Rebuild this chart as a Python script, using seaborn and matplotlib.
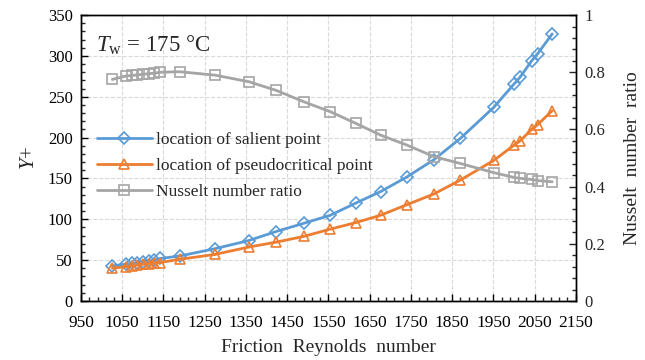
import numpy as np
import pandas as pd
import matplotlib
matplotlib.use("Agg")
import matplotlib.pyplot as plt
import seaborn as sns
from matplotlib.ticker import MultipleLocator, FixedLocator
from matplotlib.lines import Line2D

sns.set_theme(style="white")
plt.rcParams['font.family'] = ['Liberation Serif', 'DejaVu Serif']
plt.rcParams['mathtext.fontset'] = 'custom'
plt.rcParams['mathtext.rm'] = 'Liberation Serif'
plt.rcParams['mathtext.it'] = 'Liberation Serif:italic'

re_tau = [1026, 1059, 1073, 1087, 1100, 1114, 1128, 1142, 1189, 1275, 1357, 1423,
          1490, 1555, 1617, 1677, 1741, 1806, 1870, 1951, 2001, 2015, 2043, 2058, 2093]
salient = [43, 45, 46, 47, 48, 49, 50, 52, 55, 64, 74, 85,
           95, 105, 120, 134, 152, 173, 199, 237, 266, 274, 294, 303, 327]
pseudo = [40, 42, 43, 44, 45, 45.5, 46, 47, 51, 57, 66, 72,
          79, 88, 96, 105, 118, 131, 148, 172, 191, 196, 210, 216, 233]
nu_ratio = [0.775, 0.787, 0.789, 0.791, 0.793, 0.795, 0.797, 0.800, 0.802, 0.790, 0.767, 0.737,
            0.697, 0.662, 0.621, 0.580, 0.545, 0.505, 0.481, 0.449, 0.432, 0.429, 0.425, 0.421, 0.417]
x_ticks = list(range(950, 2151, 100))

df = pd.DataFrame({"re": re_tau, "salient": salient, "pseudo": pseudo, "nu": nu_ratio})

blue = "#5B9BD5"
orange = "#ED7D31"
gray = "#A5A5A5"

fig = plt.figure(figsize=(6.45, 3.6), dpi=100)
ax = fig.add_axes([0.1256, 0.164, 0.767, 0.794])
ax2 = ax.twinx()

common = dict(linewidth=2.0, markersize=7, markerfacecolor='none', markeredgewidth=1.2)
sns.lineplot(data=df, x="re", y="salient", ax=ax, color=blue, marker="D",
             markeredgecolor=blue, label="location of salient point",
             **{**common, 'markersize': 6})
sns.lineplot(data=df, x="re", y="pseudo", ax=ax, color=orange, marker="^",
             markeredgecolor=orange, label="location of pseudocritical point", **common)
sns.lineplot(data=df, x="re", y="nu", ax=ax2, color=gray, marker="s",
             markeredgecolor=gray, legend=False, **common)

ax.set_xlim(950, 2150)
ax.set_ylim(0, 350)
ax2.set_ylim(0, 1)
ax.set_xticks(x_ticks)
ax.set_xticklabels([str(v) for v in x_ticks])
ax.xaxis.set_minor_locator(FixedLocator(list(range(950, 2151, 20))))
ax.yaxis.set_major_locator(MultipleLocator(50))
ax.yaxis.set_minor_locator(MultipleLocator(10))
ax2.set_yticks([0, 0.2, 0.4, 0.6, 0.8, 1.0])
ax2.set_yticklabels(["0", "0.2", "0.4", "0.6", "0.8", "1"])
ax2.yaxis.set_minor_locator(MultipleLocator(0.04))

ax.grid(True, which='major', color='#D9D9D9', linestyle='--', linewidth=0.8)
ax.set_axisbelow(True)

for a in (ax, ax2):
    for s in a.spines.values():
        s.set_color('black')
        s.set_linewidth(1.0)
ax.tick_params(axis='y', which='major', direction='in', length=5, width=1,
               labelsize=12, colors='black', left=True, right=False, pad=6)
ax.tick_params(axis='x', which='major', direction='in', length=5, width=1,
               labelsize=12.5, colors='black', bottom=True, top=False, pad=10)
ax.tick_params(axis='both', which='minor', direction='in', length=3, width=1,
               top=False, right=False, bottom=True, left=True)
ax2.tick_params(axis='y', which='major', direction='in', length=5, width=1, labelsize=12,
                right=True, pad=6)
ax2.tick_params(axis='y', which='minor', direction='in', length=3, width=1, right=True)

ax.set_xlabel("Friction  Reynolds  number", fontsize=14, labelpad=6)
ax.set_ylabel(r"$Y$+", fontsize=15, labelpad=6)
ax2.set_ylabel("Nusselt  number  ratio", fontsize=14, labelpad=14)

ax.text(0.03, 0.895, r"$T_{\mathrm{w}}$ = 175 °C", transform=ax.transAxes,
        fontsize=16.5, ha='left', va='center')

h1, l1 = ax.get_legend_handles_labels()
if ax.get_legend():
    ax.get_legend().remove()
h3 = Line2D([], [], color=gray, marker='s', markerfacecolor='none', markeredgecolor=gray,
            linewidth=2.0, markersize=7, markeredgewidth=1.2)
ax.legend(h1 + [h3], l1 + ["Nusselt number ratio"], loc='upper left',
          bbox_to_anchor=(0.0, 0.645), frameon=False, fontsize=12.5,
          handlelength=3.2, handletextpad=0.2, labelspacing=0.55)

fig.savefig("out.png", dpi=100)
